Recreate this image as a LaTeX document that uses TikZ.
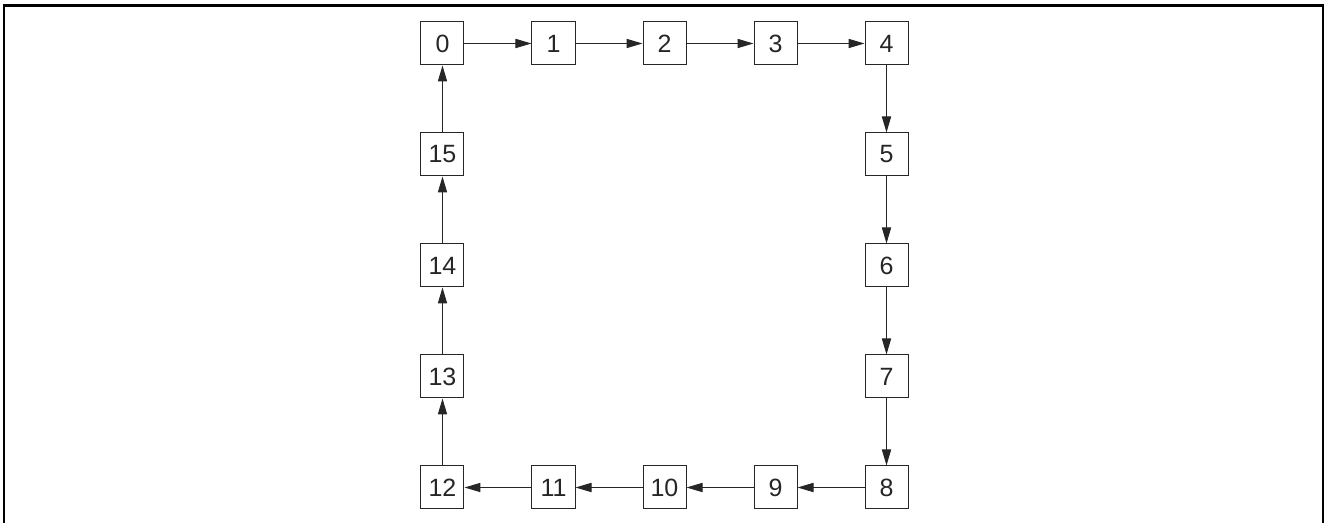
\documentclass[tikz,border=0pt]{standalone}
\usepackage{fontspec}
\setmainfont{Liberation Sans}
\usetikzlibrary{positioning,arrows.meta}

\tikzset{
    cell/.style={rectangle, draw=black!85, line width=0.5pt, minimum width=21.5pt, minimum height=21.5pt, inner sep=0pt, text=black!85, font=\fontsize{12.5pt}{14pt}\selectfont},
    link/.style={draw=black!85, line width=0.5pt, -{Triangle[length=8pt,width=4.6pt]}}
}

\begin{document}
\begin{tikzpicture}[node distance=55.5pt, on grid]
    \useasboundingbox (-221.25pt,21.75pt) rectangle (442.75pt,-239.75pt);
    % frame
    \draw[line width=1.3pt] (-219.25pt,-239.75pt) -- (-219.25pt,18.9pt) -- (440.25pt,18.9pt) -- (440.25pt,-239.75pt);

    % top row
    \node(n0) [cell] at (0,0) {0};
    \node(n1) [cell, right=of n0] {1};
    \node(n2) [cell, right=of n1] {2};
    \node(n3) [cell, right=of n2] {3};
    \node(n4) [cell, right=of n3] {4};
    % right column
    \node(n5) [cell, below=of n4] {5};
    \node(n6) [cell, below=of n5] {6};
    \node(n7) [cell, below=of n6] {7};
    \node(n8) [cell, below=of n7] {8};
    % bottom row
    \node(n9) [cell, left=of n8] {9};
    \node(n10) [cell, left=of n9] {10};
    \node(n11) [cell, left=of n10] {11};
    \node(n12) [cell, left=of n11] {12};
    % left column
    \node(n13) [cell, above=of n12] {13};
    \node(n14) [cell, above=of n13] {14};
    \node(n15) [cell, above=of n14] {15};

    \foreach \a/\b in {0/1,1/2,2/3,3/4,4/5,5/6,6/7,7/8,8/9,9/10,10/11,11/12,12/13,13/14,14/15,15/0}
        \draw[link] (n\a) -- (n\b);
\end{tikzpicture}
\end{document}
